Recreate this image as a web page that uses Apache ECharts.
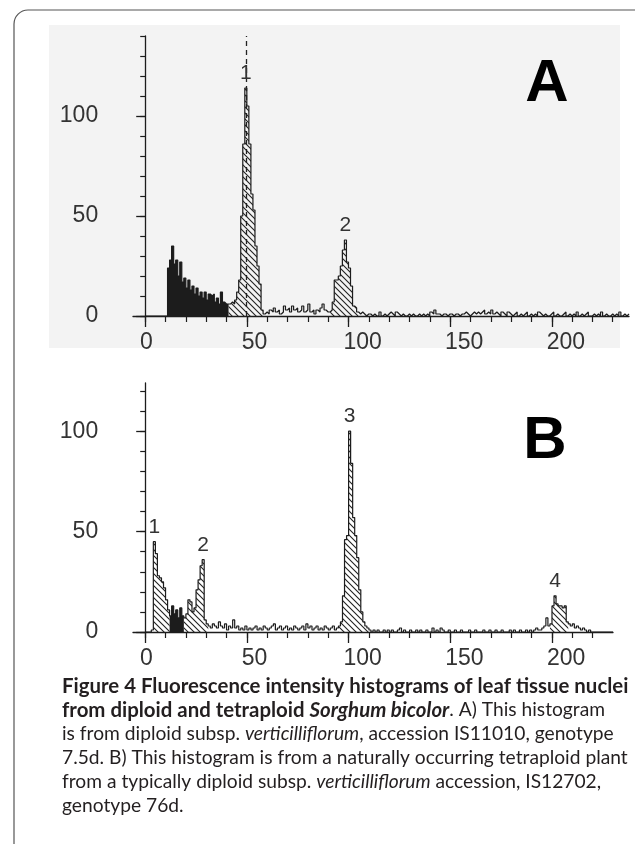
<!DOCTYPE html>
<html><head><meta charset="utf-8">
<script src="https://cdn.jsdelivr.net/npm/echarts@6/dist/echarts.min.js"></script>
<style>html,body{margin:0;padding:0;background:#fff}#c{width:635px;height:844px}</style>
</head><body><div id="c"></div>
<script>
// ---- data (counts per channel, channel i covers [i, i+1]) ----
const countsA = [
  0,0,0,0,0,0,0,0,0,0,
  0,24,28,35,26,28,20,27,17,19,
  14,18,13,15,11,14,10,12,9,12,
  8,11,10,11,7,9,6,12,7,6,
  6,6,7,6,8,12,18,50,86,114,
  105,86,61,53,35,25,16,3,1,2,
  1,3,2,4,2,3,1,2,5,3,
  4,2,5,3,4,2,3,5,2,3,
  6,2,3,1,3,2,4,6,3,2,
  2,3,7,18,18,20,25,33,38,27,
  24,15,5,4,2,1,2,1,0,1,
  1,0,1,0,0,2,0,1,0,1,
  2,1,0,2,1,0,1,0,0,1,
  0,1,0,0,1,0,1,0,1,0,
  2,1,3,1,1,0,1,1,0,1,
  1,0,1,1,0,1,1,2,1,0,
  1,2,1,2,1,2,3,1,2,1,
  3,1,2,1,0,2,1,0,2,1,
  0,1,2,0,1,0,1,2,0,1,
  0,1,0,2,1,0,1,0,0,1,
  2,0,1,0,0,1,2,0,1,0,
  1,0,2,0,1,0,1,2,0,0,
  1,0,1,0,2,0,1,0,0,1,
  0,1,0,2,0,1,0,1
];
const countsB = [
  0,0,0,1,45,39,28,27,25,22,
  16,11,8,13,9,11,7,12,8,7,
  9,16,15,10,12,21,26,33,36,6,
  4,3,2,4,3,2,5,3,2,4,
  1,3,2,6,2,3,1,2,1,3,
  1,2,1,2,3,1,2,1,3,2,
  1,2,3,4,1,2,3,1,2,3,
  1,2,1,3,2,1,2,3,1,4,
  2,3,1,2,3,1,2,1,3,2,
  1,2,3,1,2,3,5,18,46,48,
  100,84,57,48,37,21,10,5,3,2,
  1,0,1,0,1,0,0,1,0,1,
  0,1,0,0,1,2,0,1,0,0,
  1,0,0,1,0,1,0,0,1,0,
  0,2,0,1,0,2,1,0,0,1,
  0,0,1,0,0,1,0,0,0,1,
  0,0,1,0,0,0,1,0,0,1,
  0,0,1,0,0,1,0,0,0,1,
  0,1,0,0,1,0,0,1,0,1,
  0,1,2,1,1,2,3,7,3,4,
  13,18,14,13,13,12,13,5,4,3,
  4,2,3,2,1,2,1,0,1,0,
  0,0,0,0,0,0,0,0,0,0
];
const debrisA = [[11, 41]];
const gatedA = [[41, 58], [91, 105]];
const debrisB = [[12, 19]];
const gatedB = [[4, 12], [19, 31], [95, 110], [199, 208]];
const peakNamesA = ['1', '2'];
const peakChannelsA = [49, 98];
const peakNamesB = ['1', '2', '3', '4'];
const peakChannelsB = [4, 28, 100, 201];
const gateLineA = 49.6;
const xTickLabels = [0, 50, 100, 150, 200];
const yTickLabels = [0, 50, 100];
const xRangeA = [-6, 238], yMaxA = 140, minorLastA = 230;
const xRangeB = [-6, 230], yMaxB = 124, minorLastB = 220;

// ---- layout / styles ----
const GRID_LEFT = 133;
const gridA = { left: GRID_LEFT, top: 36, width: 496, height: 280 };
const gridB = { left: GRID_LEFT, top: 383, width: 480, height: 249 };
const INK = '#1c1c1c';
const AXFONT = 'Liberation Sans';
const AXSIZE = 23;
const labelShift = 2.5;

function hatchPattern() {
  const s = 6, c = document.createElement('canvas');
  c.width = s; c.height = s;
  const g = c.getContext('2d');
  g.strokeStyle = '#222'; g.lineWidth = 1.1;
  g.beginPath();
  g.moveTo(-1, -1); g.lineTo(s + 1, s + 1);
  g.moveTo(s - 1, -1); g.lineTo(s + 1, 1);
  g.moveTo(-1, s - 1); g.lineTo(1, s + 1);
  g.stroke();
  return { image: c, repeat: 'repeat' };
}
const HATCH = hatchPattern();

function stepData(arr, a, b) {
  const d = [];
  for (let i = a; i < b; i++) d.push([i, arr[i]]);
  d.push([b, arr[b - 1]]);
  return d;
}
function regionSeries(arr, regions, fill, xi, yi) {
  return regions.map(([a, b]) => ({
    type: 'line', xAxisIndex: xi, yAxisIndex: yi, step: 'end', symbol: 'none',
    silent: true, animation: false, data: stepData(arr, a, b),
    lineStyle: { opacity: 0, width: 0 }, areaStyle: { color: fill, opacity: 1 }, z: 2
  }));
}
function outlineSeries(arr, xi, yi, names, chans, extra) {
  return Object.assign({
    type: 'line', xAxisIndex: xi, yAxisIndex: yi, step: 'end', symbol: 'none',
    silent: true, animation: false, data: stepData(arr, 0, arr.length),
    lineStyle: { color: INK, width: 1.2 }, z: 3,
    markPoint: {
      symbol: 'rect', symbolSize: 0, silent: true, animation: false,
      label: { show: true, position: 'top', distance: 4, formatter: p => p.name,
               color: '#333', fontSize: 21, fontFamily: AXFONT },
      data: names.map((n, k) => ({ name: n, coord: [chans[k] + 0.5, arr[chans[k]]] }))
    }
  }, extra || {});
}
function range10(last) { const r = []; for (let v = 0; v <= last; v += 10) r.push(v); return r; }

function xAxesFor(gi, range, minorLast) {
  const base = { gridIndex: gi, type: 'value', position: 'bottom', splitLine: { show: false } };
  return [
    Object.assign({}, base, { min: range[0], max: range[1],
      axisLine: { show: true, onZero: false, lineStyle: { color: INK, width: 1.3 } },
      axisTick: { show: true, customValues: range10(minorLast), length: 6, lineStyle: { color: INK, width: 1.2 } },
      axisLabel: { show: false } }),
    Object.assign({}, base, { min: range[0], max: range[1],
      axisLine: { show: true, onZero: false, lineStyle: { opacity: 0 } },
      axisTick: { show: true, customValues: xTickLabels, length: 11, lineStyle: { color: INK, width: 1.3 } },
      axisLabel: { show: false } }),
    Object.assign({}, base, { min: range[0] + labelShift, max: range[1] + labelShift,
      axisLine: { show: true, onZero: false, lineStyle: { opacity: 0 } }, axisTick: { show: false },
      axisLabel: { show: true, customValues: xTickLabels, align: 'left', margin: 15,
        fontSize: AXSIZE, fontFamily: AXFONT, color: '#333' } })
  ];
}
// y axes sit on x = 0 of the data axis: shift them inward from the grid's left edge
function yAxesFor(gi, max, grid, xRange) {
  const inward = -grid.width * (0 - xRange[0]) / (xRange[1] - xRange[0]);
  const base = { gridIndex: gi, type: 'value', position: 'left', min: 0, max: max,
                 offset: inward, splitLine: { show: false } };
  return [
    Object.assign({}, base, {
      axisLine: { show: true, onZero: false, lineStyle: { color: INK, width: 1.3 } },
      axisTick: { show: true, customValues: range10(max), length: 5, lineStyle: { color: INK, width: 1.2 } },
      axisLabel: { show: false } }),
    Object.assign({}, base, {
      axisLine: { show: true, onZero: false, lineStyle: { opacity: 0 } },
      axisTick: { show: true, customValues: yTickLabels, length: 9, lineStyle: { color: INK, width: 1.3 } },
      axisLabel: { show: true, customValues: yTickLabels, margin: 47,
        fontSize: AXSIZE, fontFamily: AXFONT, color: '#333' } })
  ];
}

// ---- caption ----
const captionLines = [
  [['b', 'Figure 4 Fluorescence intensity histograms of leaf tissue nuclei']],
  [['b', 'from diploid and tetraploid '], ['bi', 'Sorghum bicolor'], ['r', '. A) This histogram']],
  [['r', 'is from diploid subsp. '], ['i', 'verticilliflorum'], ['r', ', accession IS11010, genotype']],
  [['r', '7.5d. B) This histogram is from a naturally occurring tetraploid plant']],
  [['r', 'from a typically diploid subsp. '], ['i', 'verticilliflorum'], ['r', ' accession, IS12702,']],
  [['r', 'genotype 76d.']]
];
const CAPFONT = 'Lato';
const mctx = document.createElement('canvas').getContext('2d');
function measure(weight, style, txt) { mctx.font = style + ' ' + weight + ' 100px "' + CAPFONT + '"'; return mctx.measureText(txt).width; }
const regSize = 100 * 566 / measure(400, 'normal', captionLines[3][0][1]);
const boldSize = 100 * 567 / measure(700, 'normal', captionLines[0][0][1]);
const CAPCOLOR = '#231f20';
const rich = {
  b: { fontFamily: CAPFONT, fontWeight: 700, fontSize: boldSize, fill: CAPCOLOR, color: CAPCOLOR },
  bi: { fontFamily: CAPFONT, fontWeight: 700, fontStyle: 'italic', fontSize: boldSize, fill: CAPCOLOR, color: CAPCOLOR },
  r: { fontFamily: CAPFONT, fontWeight: 400, fontSize: regSize, fill: CAPCOLOR, color: CAPCOLOR },
  i: { fontFamily: CAPFONT, fontWeight: 400, fontStyle: 'italic', fontSize: regSize, fill: CAPCOLOR, color: CAPCOLOR }
};
const captionEls = captionLines.map((segs, k) => ({
  type: 'text', x: 62, y: 686 + 24 * k, silent: true,
  style: { text: segs.map(s => '{' + s[0] + '|' + s[1] + '}').join(''), rich: rich,
           textAlign: 'left', textVerticalAlign: 'middle', verticalAlign: 'middle' }
}));

const chart = echarts.init(document.getElementById('c'), null, { renderer: 'canvas' });
chart.setOption({
  animation: false,
  backgroundColor: '#ffffff',
  grid: [
    Object.assign({ outerBoundsMode: 'none', containLabel: false }, gridA),
    Object.assign({ outerBoundsMode: 'none', containLabel: false }, gridB)
  ],
  xAxis: xAxesFor(0, xRangeA, minorLastA).concat(xAxesFor(1, xRangeB, minorLastB)),
  yAxis: yAxesFor(0, yMaxA, gridA, xRangeA).concat(yAxesFor(1, yMaxB, gridB, xRangeB)),
  series: [].concat(
    regionSeries(countsA, debrisA, INK, 0, 0),
    regionSeries(countsA, gatedA, HATCH, 0, 0),
    [outlineSeries(countsA, 0, 0, peakNamesA, peakChannelsA, {
      markLine: { symbol: ['none', 'none'], silent: true, animation: false,
        label: { show: false }, lineStyle: { type: [5, 4], color: '#222', width: 1.3 },
        data: [{ xAxis: gateLineA }] }
    })],
    regionSeries(countsB, debrisB, INK, 3, 2),
    regionSeries(countsB, gatedB, HATCH, 3, 2),
    [outlineSeries(countsB, 3, 2, peakNamesB, peakChannelsB)]
  ),
  graphic: [
    { type: 'rect', z: -10, silent: true, shape: { x: 49, y: 25, width: 571, height: 323 }, style: { fill: '#f3f3f3' } },
    { type: 'rect', z: -5, silent: true, shape: { x: 14, y: 10, width: 700, height: 900, r: 14 }, style: { fill: 'none', stroke: '#555', lineWidth: 1.2 } },
    { type: 'text', x: 547, y: 84, silent: true, style: { text: 'A', font: 'bold 60px "Liberation Sans"', fill: '#000', textAlign: 'center', textVerticalAlign: 'middle', verticalAlign: 'middle' } },
    { type: 'text', x: 545, y: 441, silent: true, style: { text: 'B', font: 'bold 60px "Liberation Sans"', fill: '#000', textAlign: 'center', textVerticalAlign: 'middle', verticalAlign: 'middle' } }
  ].concat(captionEls)
});
</script></body></html>
